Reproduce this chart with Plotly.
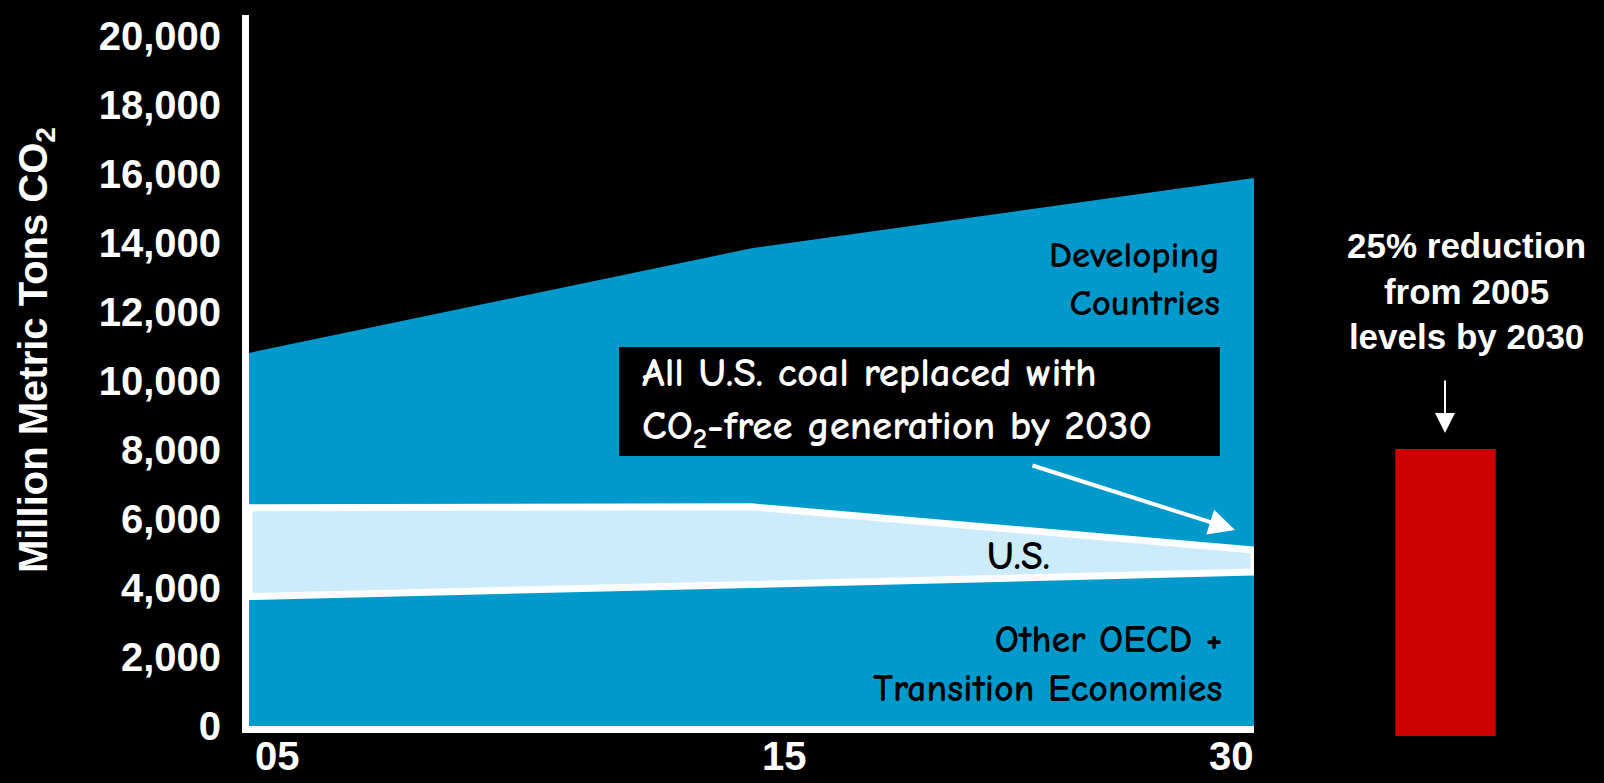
import numpy as np
import plotly.graph_objects as go

# ---------------- data ----------------
years = ["2005", "2015", "2030"]
x_labels = ["05", "15", "30"]
other_oecd = [3750, 4100, 4460]          # Other OECD + Transition Economies
us = [2570, 2250, 640]                    # U.S. (stacked on Other OECD)
developing = [4490, 7490, 10780]          # Developing Countries (stacked on top)
target_label = ["25% reduction"]
target_value = [8100]
y_ticks = list(range(0, 20001, 2000))

# ---------------- styles ----------------
W, H = 1604, 783
BLUE = "#0099CC"
LIGHT = "#CCECFC"
RED = "#CC0000"
ARIAL = "Arial, Liberation Sans, sans-serif"
COMIC = "Comic Sans MS, Comic Neue, Open Sans, sans-serif"


def px(x):
    return x / W


def py(y):
    return (H - y) / H


xi = list(range(len(years)))
oecd_top = np.array(other_oecd)
us_top = oecd_top + np.array(us)
total = us_top + np.array(developing)

fig = go.Figure()
fig.add_trace(go.Scatter(x=xi, y=total, mode="lines", fill="tozeroy", fillcolor=BLUE,
                         line=dict(width=0, color=BLUE), name="Developing Countries",
                         hoverinfo="skip"))
fig.add_trace(go.Scatter(x=xi, y=oecd_top, mode="lines", fill="tozeroy", fillcolor=BLUE,
                         line=dict(width=0, color=BLUE), name="Other OECD + Transition Economies",
                         hoverinfo="skip"))
poly_x = xi + xi[::-1] + [xi[0]]
poly_y = list(us_top) + list(oecd_top[::-1]) + [us_top[0]]
fig.add_trace(go.Scatter(x=poly_x, y=poly_y, mode="lines", fill="toself", fillcolor=LIGHT,
                         line=dict(width=7, color="white"), name="U.S.", hoverinfo="skip"))
fig.add_trace(go.Bar(x=target_label, y=target_value, xaxis="x2", yaxis="y2",
                     marker=dict(color=RED, line=dict(width=0)), width=0.5,
                     name="Target", hoverinfo="skip"))

annotations = []
# x tick labels
anchors = ["left", "left", "right"]
shifts = [4, 8, 2]
for i, lab in enumerate(x_labels):
    annotations.append(dict(x=xi[i], y=0, xref="x", yref="y", text=lab, showarrow=False,
                            xanchor=anchors[i], yanchor="middle", xshift=shifts[i], yshift=-30,
                            font=dict(family=ARIAL, size=40, color="white", weight="bold")))
# y axis title
annotations.append(dict(x=px(36), y=py(350), xref="paper", yref="paper",
                        text="Million Metric Tons CO<sub>2</sub>", textangle=-90, showarrow=False,
                        xanchor="center", yanchor="middle",
                        font=dict(family=ARIAL, size=40, color="white", weight="bold")))
# area labels
annotations.append(dict(x=px(1222), y=py(279), xref="paper", yref="paper",
                        text="Developing<br>Countries", align="right", showarrow=False,
                        xanchor="right", yanchor="middle",
                        font=dict(family=COMIC, size=37, color="black", weight="bold")))
annotations.append(dict(x=px(1018), y=py(556), xref="paper", yref="paper",
                        text="U.S.", showarrow=False, xanchor="center", yanchor="middle",
                        font=dict(family=COMIC, size=40, color="black", weight="bold")))
annotations.append(dict(x=px(1225), y=py(664), xref="paper", yref="paper",
                        text="Other OECD +<br>Transition Economies", align="right", showarrow=False,
                        xanchor="right", yanchor="middle",
                        font=dict(family=COMIC, size=38, color="black", weight="bold")))
# callout text
annotations.append(dict(x=px(640), y=py(402), xref="paper", yref="paper",
                        text="All U.S. coal replaced with<br>CO<sub>2</sub>-free generation by 2030",
                        align="left", showarrow=False, xanchor="left", yanchor="middle",
                        font=dict(family=COMIC, size=41, color="white", weight="bold")))
# callout arrow
annotations.append(dict(x=px(1235), y=py(530), xref="paper", yref="paper", text="",
                        showarrow=True, ax=-204, ay=-65, axref="pixel", ayref="pixel",
                        arrowhead=2, arrowsize=1.3, arrowwidth=4, arrowcolor="white",
                        standoff=0, startstandoff=0))
# target text + arrow
annotations.append(dict(x=px(1466), y=py(291), xref="paper", yref="paper",
                        text="25% reduction<br>from 2005<br>levels by 2030", align="center",
                        showarrow=False, xanchor="center", yanchor="middle",
                        font=dict(family=ARIAL, size=35, color="white", weight="bold")))
annotations.append(dict(x=px(1445), y=py(433), xref="paper", yref="paper", text="",
                        showarrow=True, ax=0, ay=-54, axref="pixel", ayref="pixel",
                        arrowhead=2, arrowsize=2, arrowwidth=2, arrowcolor="white",
                        standoff=0, startstandoff=0))

shapes = [dict(type="rect", xref="paper", yref="paper", x0=px(619), x1=px(1220),
               y0=py(456), y1=py(347), fillcolor="black", line=dict(width=0), layer="above")]

fig.update_layout(
    width=W, height=H, autosize=False,
    margin=dict(l=0, r=0, t=0, b=0, pad=0, autoexpand=False),
    paper_bgcolor="black", plot_bgcolor="black",
    showlegend=False,
    xaxis=dict(domain=[px(249), px(1254)], range=[0, 2], showline=True, linecolor="white",
               linewidth=7, showgrid=False, zeroline=False, showticklabels=False, ticks="",
               automargin=False),
    yaxis=dict(domain=[py(726), py(15)], range=[0, 20600], tickvals=y_ticks, tickformat=",d",
               tickfont=dict(family=ARIAL, size=40, color="white", weight="bold"),
               showline=True, linecolor="white", linewidth=7, showgrid=False, zeroline=False,
               ticks="", ticklabelstandoff=13, automargin=False),
    xaxis2=dict(domain=[px(1345), px(1546)], anchor="y2", range=[-0.5, 0.5], visible=False,
                type="category", automargin=False),
    yaxis2=dict(domain=[py(736), 0.96501], anchor="x2", range=[0, 20000], visible=False,
                automargin=False),
    annotations=annotations,
    shapes=shapes,
)

fig.write_html("out.html",
               config={"responsive": False, "displayModeBar": False},
               post_script="document.body.style.margin='0';document.body.style.overflow='hidden';")
